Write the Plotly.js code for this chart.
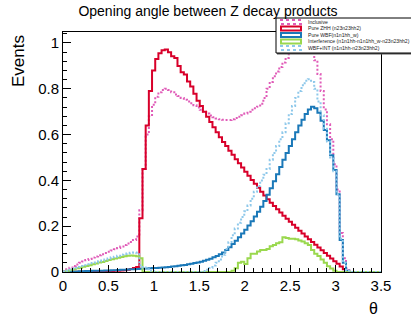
<!DOCTYPE html>
<html>
<head>
<meta charset="utf-8">
<script src="https://cdn.plot.ly/plotly-3.0.1.min.js"></script>
<style>html,body{margin:0;padding:0;background:#fff;}#chart{width:411px;height:318px;}</style>
</head>
<body>
<div id="chart"></div>
<script>
// Histogram binning (0 to 3.5 rad, 100 bins)
const xMin = 0;
const xMax = 3.5;
const nBins = 100;

const seriesNames = [
  "Inclusive",
  "Pure ZHH (n23n23hh2)",
  "Pure WBF(n1n1hh_w)",
  "Interference (n1n1hh-n1n1hh_w-n23n23hh2)",
  "WBF+INT (n1n1hh-n23n23hh2)"
];

const inclusive = [
  0.004, 0.012, 0.019, 0.026, 0.033, 0.040, 0.046, 0.052, 0.057, 0.063,
  0.068, 0.073, 0.078, 0.083, 0.088, 0.094, 0.099, 0.105, 0.111, 0.118,
  0.124, 0.131, 0.140, 0.155, 0.270, 0.450, 0.600, 0.680, 0.730, 0.765,
  0.785, 0.795, 0.800, 0.795, 0.785, 0.775, 0.768, 0.760, 0.752, 0.745,
  0.737, 0.728, 0.718, 0.708, 0.700, 0.692, 0.683, 0.676, 0.670, 0.667,
  0.665, 0.664, 0.664, 0.667, 0.672, 0.678, 0.685, 0.692, 0.700, 0.708,
  0.715, 0.722, 0.735, 0.760, 0.800, 0.830, 0.855, 0.875, 0.895, 0.915,
  0.935, 0.960, 0.980, 0.995, 1.005, 1.010, 1.012, 1.000, 0.975, 0.925,
  0.865, 0.790, 0.710, 0.645, 0.580, 0.470, 0.360, 0.170, 0.060, 0.015,
  0, 0, 0, 0, 0, 0, 0, 0, 0, 0
];

const pureZHH = [
  0, 0, 0, 0.001, 0.001, 0.001, 0.001, 0.002, 0.002, 0.002,
  0.002, 0.003, 0.003, 0.003, 0.004, 0.004, 0.005, 0.006, 0.007, 0.008,
  0.010, 0.013, 0.017, 0.022, 0.235, 0.450, 0.640, 0.790, 0.880, 0.930,
  0.955, 0.968, 0.972, 0.960, 0.942, 0.935, 0.900, 0.872, 0.862, 0.832,
  0.810, 0.778, 0.748, 0.725, 0.700, 0.678, 0.655, 0.632, 0.610, 0.588,
  0.568, 0.550, 0.530, 0.512, 0.492, 0.475, 0.456, 0.438, 0.420, 0.402,
  0.385, 0.368, 0.350, 0.334, 0.318, 0.302, 0.288, 0.274, 0.260, 0.246,
  0.232, 0.219, 0.206, 0.193, 0.180, 0.168, 0.155, 0.143, 0.131, 0.119,
  0.107, 0.095, 0.083, 0.071, 0.059, 0.047, 0.036, 0.024, 0.012, 0.003,
  0, 0, 0, 0, 0, 0, 0, 0, 0, 0
];

const pureWBF = [
  0, 0.001, 0.001, 0.002, 0.002, 0.003, 0.003, 0.004, 0.004, 0.005,
  0.005, 0.006, 0.006, 0.007, 0.007, 0.008, 0.008, 0.009, 0.010, 0.010,
  0.011, 0.012, 0.012, 0.013, 0.014, 0.015, 0.015, 0.016, 0.017, 0.018,
  0.019, 0.020, 0.021, 0.022, 0.024, 0.025, 0.027, 0.029, 0.031, 0.034,
  0.036, 0.039, 0.042, 0.045, 0.049, 0.053, 0.058, 0.064, 0.070, 0.077,
  0.085, 0.096, 0.108, 0.122, 0.137, 0.152, 0.168, 0.185, 0.203, 0.222,
  0.242, 0.263, 0.285, 0.310, 0.337, 0.366, 0.396, 0.427, 0.458, 0.490,
  0.520, 0.550, 0.580, 0.610, 0.640, 0.665, 0.690, 0.710, 0.722, 0.715,
  0.695, 0.660, 0.620, 0.575, 0.510, 0.445, 0.340, 0.140, 0.040, 0.005,
  0, 0, 0, 0, 0, 0, 0, 0, 0, 0
];

const interference = [
  0.002, 0.005, 0.009, 0.012, 0.016, 0.019, 0.023, 0.026, 0.030, 0.034,
  0.037, 0.041, 0.044, 0.048, 0.052, 0.056, 0.059, 0.062, 0.066, 0.069,
  0.071, 0.072, 0.071, 0.069, 0.060, 0, 0, 0, 0, 0,
  0, 0, 0, 0, 0, 0, 0, 0, 0, 0,
  0, 0, 0, 0, 0, 0, 0, 0, 0, 0,
  0, 0, 0, 0.005, 0.016, 0.040, 0.045, 0.035, 0.060, 0.080,
  0.080, 0.090, 0.096, 0.096, 0.100, 0.112, 0.118, 0.126, 0.130, 0.152,
  0.148, 0.145, 0.145, 0.143, 0.138, 0.133, 0.126, 0.118, 0.096, 0.080,
  0.070, 0.055, 0.040, 0.025, 0.015, 0.005, 0, 0, 0, 0,
  0, 0, 0, 0, 0, 0, 0, 0, 0, 0
];

const wbfPlusInt = [
  0.002, 0.006, 0.010, 0.014, 0.018, 0.022, 0.026, 0.030, 0.034, 0.039,
  0.042, 0.047, 0.050, 0.055, 0.059, 0.064, 0.067, 0.071, 0.076, 0.079,
  0.082, 0.084, 0.085, 0.084, 0.030, 0.020, 0.012, 0.006, 0.003, 0,
  0, 0, 0, 0, 0, 0, 0, 0, 0, 0,
  0, 0, 0, 0, 0.004, 0.010, 0.018, 0.028, 0.040, 0.055,
  0.075, 0.100, 0.130, 0.160, 0.190, 0.215, 0.240, 0.265, 0.290, 0.320,
  0.350, 0.375, 0.400, 0.425, 0.450, 0.490, 0.520, 0.550, 0.580, 0.610,
  0.650, 0.690, 0.725, 0.760, 0.790, 0.815, 0.835, 0.842, 0.830, 0.800,
  0.745, 0.685, 0.625, 0.570, 0.500, 0.440, 0.340, 0.145, 0.040, 0.005,
  0, 0, 0, 0, 0, 0, 0, 0, 0, 0
];

const binWidth = (xMax - xMin) / nBins;
const edges = [];
for (let i = 0; i <= nBins; i++) edges.push(xMin + i * binWidth);
function stepY(vals) { return vals.concat([vals[vals.length - 1]]); }

const colors = ["#e05cb8", "#d8002a", "#1a78b8", "#9ad84e", "#8ec8ea"];
const dashes = ["2px,2px", "solid", "solid", "solid", "2px,2px"];
const allSeries = [inclusive, pureZHH, pureWBF, interference, wbfPlusInt];

const traces = allSeries.map((vals, k) => ({
  type: "scatter", mode: "lines",
  x: edges, y: stepY(vals),
  line: {shape: "hv", color: colors[k], width: 2, dash: dashes[k]},
  name: seriesNames[k], hoverinfo: "skip"
}));

const W = 411, H = 318;
const M = {l: 63, r: 30, t: 32, b: 46};
const plotW = W - M.l - M.r, plotH = H - M.t - M.b;
// pixel -> paper coordinates (paper spans the plot area)
const px = v => (v - M.l) / plotW;
const py = v => (H - M.b - v) / plotH;

// legend drawn as shapes + text annotations (ROOT TLegend style)
const legLeft = 276, legRight = 414, legTop = 18, legBottom = 53;
const rowY = [22, 28.5, 35, 41.5, 48];
const shapes = [
  {type: "rect", xref: "paper", yref: "paper", x0: px(legLeft + 1), x1: px(legRight + 1), y0: py(legBottom + 1.5), y1: py(legTop + 1),
   fillcolor: "#555", line: {width: 0}, layer: "above"},
  {type: "rect", xref: "paper", yref: "paper", x0: px(legLeft), x1: px(legRight), y0: py(legBottom), y1: py(legTop),
   fillcolor: "#fff", line: {color: "#000", width: 1}, layer: "above"}
];
const annotations = [];
rowY.forEach((ry, k) => {
  shapes.push({type: "rect", xref: "paper", yref: "paper",
    x0: px(281), x1: px(301), y0: py(ry + 2), y1: py(ry - 2),
    fillcolor: "rgba(0,0,0,0)", line: {color: colors[k], width: 2, dash: k === 0 || k === 4 ? "dot" : "solid"}, layer: "above"});
  annotations.push({xref: "paper", yref: "paper", x: px(306), y: py(ry), xanchor: "left", yanchor: "middle",
    text: seriesNames[k], showarrow: false, font: {family: "Liberation Sans, Arial, sans-serif", size: 5.1, color: "#222"}});
});
annotations.push({xref: "paper", yref: "paper", x: px(18), y: py(33), xanchor: "center", yanchor: "top",
  text: "Events", textangle: -90, showarrow: false, font: {family: "Liberation Sans, Arial, sans-serif", size: 17, color: "#000"}});
annotations.push({xref: "paper", yref: "paper", x: px(380), y: py(308), xanchor: "right", yanchor: "middle",
  text: "θ", showarrow: false, font: {family: "Liberation Sans, Arial, sans-serif", size: 16, color: "#000"}});

const layout = {
  width: W, height: H,
  margin: {l: M.l, r: M.r, t: M.t, b: M.b, pad: 0},
  paper_bgcolor: "#fff", plot_bgcolor: "#fff",
  showlegend: false,
  font: {family: "Liberation Sans, Arial, sans-serif", size: 14, color: "#000"},
  title: {text: "Opening angle between Z decay products", x: 208 / W, xanchor: "center", y: 1 - 11.5 / H, yanchor: "middle",
          font: {family: "Liberation Sans, Arial, sans-serif", size: 14, color: "#000"}},
  xaxis: {range: [xMin, xMax], showgrid: false, zeroline: false, showline: true, mirror: true, linecolor: "#000", linewidth: 1,
          ticks: "inside", ticklen: 7, tickcolor: "#000", dtick: 0.5, tick0: 0,
          minor: {dtick: 0.1, ticks: "inside", ticklen: 4, tickcolor: "#000"},
          tickfont: {size: 15}, fixedrange: true},
  yaxis: {range: [0, 1.048], showgrid: false, zeroline: false, showline: true, mirror: true, linecolor: "#000", linewidth: 1,
          ticks: "inside", ticklen: 8, tickcolor: "#000", dtick: 0.2, tick0: 0,
          minor: {dtick: 0.04, ticks: "inside", ticklen: 4, tickcolor: "#000"},
          tickfont: {size: 15}, fixedrange: true},
  shapes: shapes,
  annotations: annotations
};

Plotly.newPlot("chart", traces, layout, {staticPlot: true, displayModeBar: false});
</script>
</body>
</html>
